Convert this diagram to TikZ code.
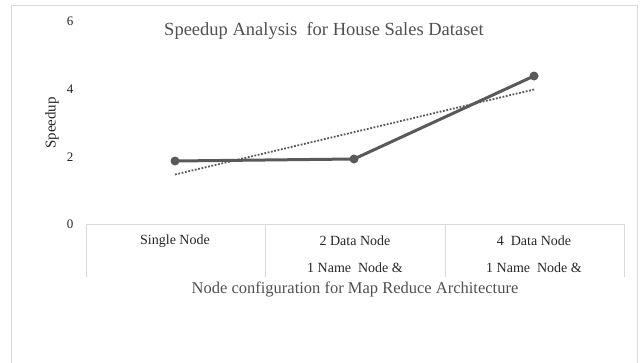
\documentclass[tikz,border=0pt]{standalone}
\usepackage{fontspec}
\setmainfont{Liberation Serif}
\definecolor{frame}{HTML}{D9D9D9}
\definecolor{series}{HTML}{595959}
\definecolor{labeltext}{HTML}{262626}
\definecolor{titletext}{HTML}{505050}
\tikzset{
  framebox/.style={draw=frame, line width=1pt},
  gridline/.style={draw=frame, line width=1pt},
  ticklabel/.style={text=labeltext, font=\fontsize{13}{15}\selectfont, inner sep=0pt},
  catlabel/.style={text=labeltext, font=\fontsize{14}{16}\selectfont, inner sep=0pt},
  titlelabel/.style={text=titletext, font=\fontsize{18.5}{21}\selectfont, inner sep=0pt},
  axistitle/.style={text=titletext, font=\fontsize{16.5}{19}\selectfont, inner sep=0pt},
  datapoint/.style={circle, fill=series, inner sep=0pt, minimum size=9pt},
  dataline/.style={draw=series, line width=3pt},
  trendline/.style={draw=series, line width=1.8pt, dash pattern=on 1.8pt off 1.6pt},
}
\begin{document}
\begin{tikzpicture}[x=1pt, y=-1pt]
  \useasboundingbox (0,0) rectangle (644,362);
  % chart frame (open at the bottom)
  \draw[framebox] (11,370) -- (11,5) -- (637,5) -- (637,370);

  % title
  \node[titlelabel] (title) at (324,31) {Speedup Analysis\ \ for House Sales Dataset};

  % value axis labels
  \node[ticklabel] (y6) at (70,21) {6};
  \node[ticklabel] (y4) at (70,89) {4};
  \node[ticklabel] (y2) at (70,157) {2};
  \node[ticklabel] (y0) at (70,224) {0};
  \node[ticklabel, font=\fontsize{15}{17}\selectfont, rotate=90] (ytitle) at (52,123) {Speedup};

  % category axis with table-style separators
  \draw[gridline] (86,224) -- (624,224);
  \foreach \x in {86,265,445,624} \draw[gridline] (\x,224) -- (\x,277);

  \node[catlabel] (c1) at (175,241) {Single Node};
  \node[catlabel] (c2a) at (355,241) {2 Data Node};
  \node[catlabel] (c2b) at (355,268) {1 Name\ \ Node \&};
  \node[catlabel] (c3a) at (534,241) {4\ \ Data Node};
  \node[catlabel] (c3b) at (534,268) {1 Name\ \ Node \&};

  \node[axistitle] (xtitle) at (355,289) {Node configuration for Map Reduce Architecture};

  % linear trend
  \coordinate (t1) at (175,174.5);
  \coordinate (t2) at (534,89.5);
  \draw[trendline] (t1) -- (t2);

  % speedup series
  \node[datapoint] (p1) at (175,161) {};
  \node[datapoint] (p2) at (354,159) {};
  \node[datapoint] (p3) at (534,76) {};
  \draw[dataline] (p1.center) -- (p2.center) -- (p3.center);
\end{tikzpicture}
\end{document}
